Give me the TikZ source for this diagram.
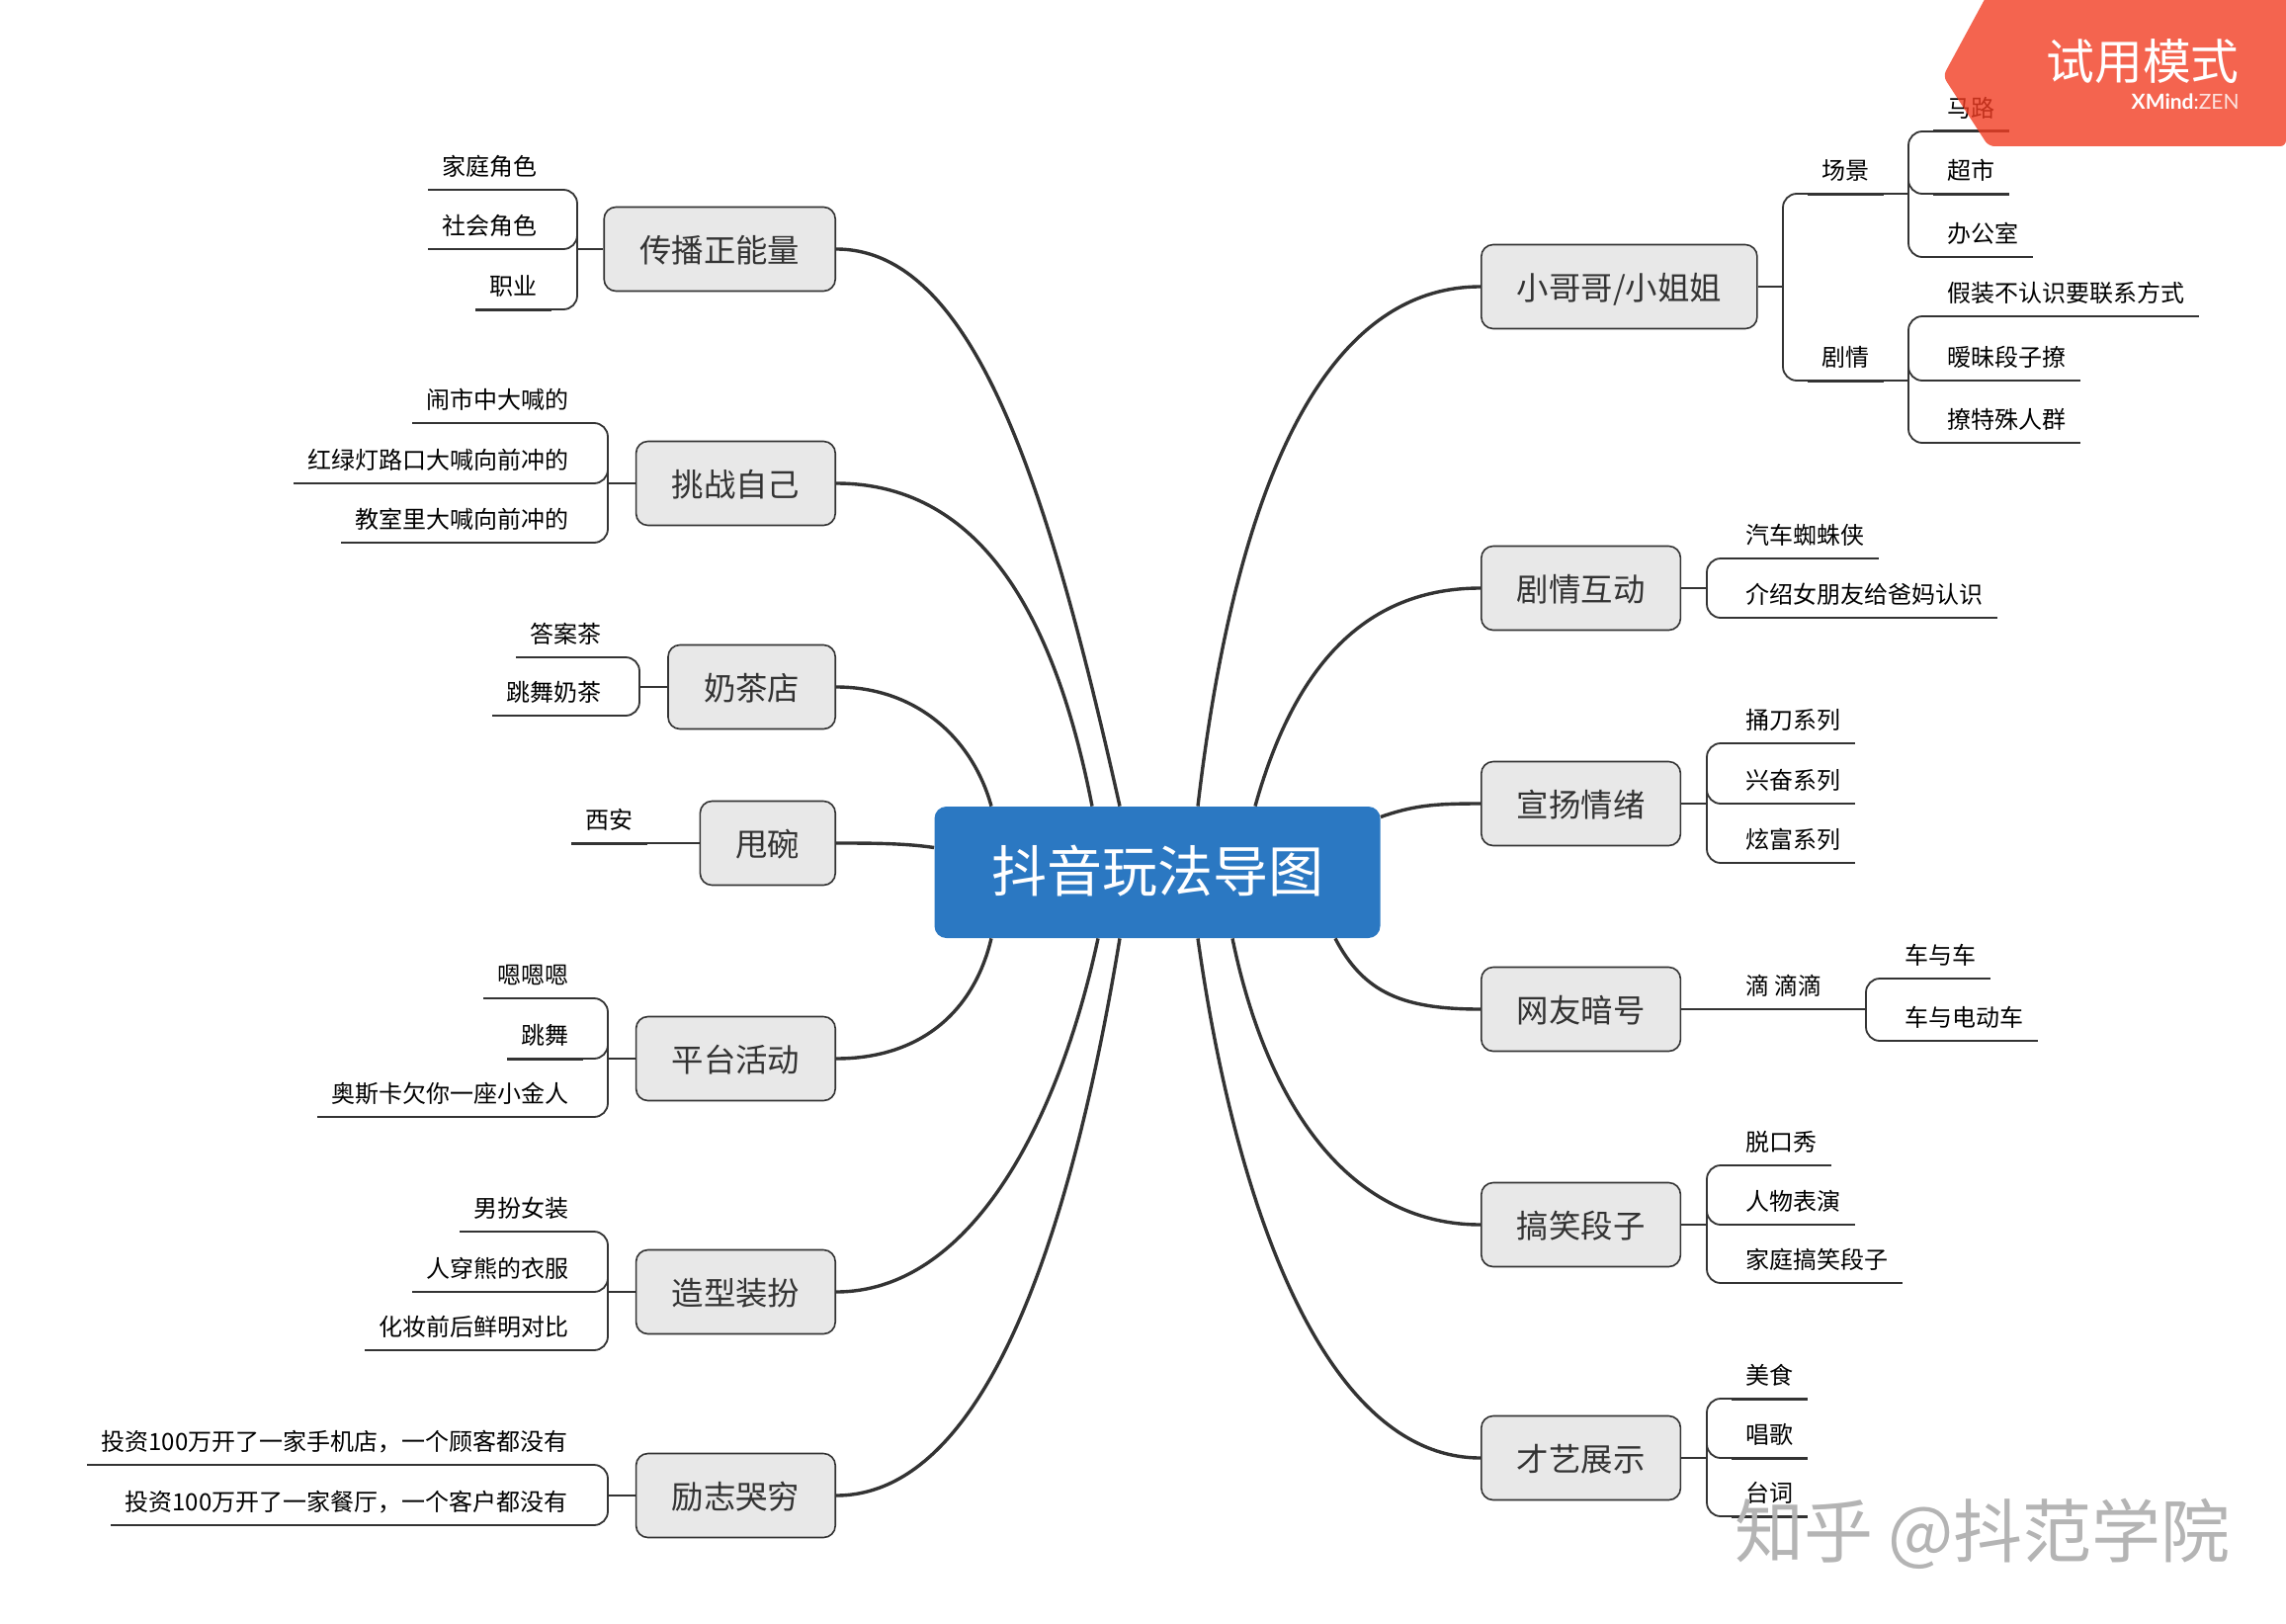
\documentclass[tikz,border=0pt]{standalone}
\usepackage{fontspec}
\usepackage{tikz}
\setmainfont{Noto Sans CJK SC}
\newfontfamily\xmindfont{Lato}
\definecolor{rootBlue}{HTML}{2B78C2}
\definecolor{topicGrey}{HTML}{E8E8E8}
\definecolor{lineDark}{HTML}{333333}
\definecolor{bannerRed}{HTML}{F13D23}
\definecolor{markGrey}{HTML}{B4B4B4}
\tikzstyle{mindmap}=[x=0.5pt, y=-0.5pt, draw=lineDark, text=black]
\tikzstyle{root}=[rectangle, rounded corners=6pt, fill=rootBlue, text=white, minimum width=225.5pt, minimum height=66.5pt, text height=24pt, text depth=4pt, inner sep=0pt, font=\fontsize{28}{32}\selectfont]
\tikzstyle{topic}=[rectangle, rounded corners=6pt, draw=lineDark, line width=0.8pt, fill=topicGrey, text=black!80, minimum height=42.5pt, inner xsep=18pt, inner ysep=0pt, text height=15.5pt, text depth=2.5pt, font=\fontsize{16.2}{20}\selectfont]
\tikzstyle{topicL}=[topic, anchor=east]
\tikzstyle{topicR}=[topic, anchor=west]
\tikzstyle{leaf}=[inner xsep=7pt, inner ysep=5pt, text height=10pt, text depth=2pt, font=\fontsize{12}{14}\selectfont]
\tikzstyle{leafL}=[leaf, anchor=south east]
\tikzstyle{leafR}=[leaf, anchor=south west]
\tikzstyle{limb}=[line width=1.7pt, draw=lineDark]
\tikzstyle{twig}=[line width=0.9pt, draw=lineDark, rounded corners=7pt]
\tikzstyle{heavy}=[line width=1.5pt, draw=lineDark]

\begin{document}
\begin{tikzpicture}[mindmap]
	\useasboundingbox (0,0) rectangle (2313,1643);

	\draw (1171,882.5) node[root] (root) {抖音玩法导图};

	%The topics on the left
	\draw (846,252) node[topicL] (energy) {传播正能量};
	\draw (846,489) node[topicL] (dare) {挑战自己};
	\draw (846,695) node[topicL] (tea) {奶茶店};
	\draw (846,853) node[topicL] (bowl) {甩碗};
	\draw (846,1071) node[topicL] (event) {平台活动};
	\draw (846,1307) node[topicL] (dress) {造型装扮};
	\draw (846,1513) node[topicL] (poor) {励志哭穷};

	%The topics on the right
	\draw (1498,290) node[topicR] (boy) {小哥哥/小姐姐};
	\draw (1498,595) node[topicR] (plot) {剧情互动};
	\draw (1498,813) node[topicR] (mood) {宣扬情绪};
	\draw (1498,1021) node[topicR] (code) {网友暗号};
	\draw (1498,1239) node[topicR] (fun) {搞笑段子};
	\draw (1498,1475) node[topicR] (art) {才艺展示};

	%Curves from the root
	\draw[limb] (energy.east) .. controls (985,252) and (1060,490) .. ([xshift=-19pt]root.north);
	\draw[limb] (dare.east) .. controls (985,489) and (1065,610) .. ([xshift=-33pt]root.north);
	\draw[limb] (tea.east) .. controls (930,695) and (985,750) .. ([xshift=-84pt]root.north);
	\draw[limb] (bowl.east) .. controls (880,853) and (915,853) .. ([yshift=12.5pt]root.west);
	\draw[limb] (event.east) .. controls (930,1071) and (985,1025) .. ([xshift=-84pt]root.south);
	\draw[limb] (dress.east) .. controls (980,1307) and (1070,1140) .. ([xshift=-30pt]root.south);
	\draw[limb] (poor.east) .. controls (1000,1513) and (1085,1240) .. ([xshift=-19pt]root.south);
	\draw[limb] (boy.west) .. controls (1340,290) and (1250,490) .. ([xshift=20.5pt]root.north);
	\draw[limb] (plot.west) .. controls (1370,595) and (1305,690) .. ([xshift=49.5pt]root.north);
	\draw[limb] (mood.west) .. controls (1450,813) and (1430,815) .. ([yshift=28pt]root.east);
	\draw[limb] (code.west) .. controls (1420,1021) and (1380,1005) .. ([xshift=90pt]root.south);
	\draw[limb] (fun.west) .. controls (1360,1239) and (1280,1110) .. ([xshift=38pt]root.south);
	\draw[limb] (art.west) .. controls (1340,1475) and (1250,1220) .. ([xshift=20.5pt]root.south);

	%Left leaves
	\coordinate (hubEnergy) at (584,252);
	\draw (558,192) node[leafL] (family) {家庭角色};
	\draw (558,252) node[leafL] (social) {社会角色};
	\draw (558,313) node[leafL] (job) {职业};
	\draw[twig] (energy.west) -- (hubEnergy);
	\draw[twig] (hubEnergy) |- (family.south west);
	\draw[twig] (hubEnergy) |- (social.south west);
	\draw[twig] (hubEnergy) |- (job.south west);
	\draw[heavy] (job.south west) -- (job.south east);

	\coordinate (hubDare) at (615,489);
	\draw (590,428) node[leafL] (street) {闹市中大喊的};
	\draw (590,489) node[leafL] (light) {红绿灯路口大喊向前冲的};
	\draw (590,549) node[leafL] (classroom) {教室里大喊向前冲的};
	\draw[twig] (dare.west) -- (hubDare);
	\draw[twig] (hubDare) |- (street.south west);
	\draw[twig] (hubDare) |- (light.south west);
	\draw[twig] (hubDare) |- (classroom.south west);

	\coordinate (hubTea) at (647,695);
	\draw (623,665) node[leafL] (answer) {答案茶};
	\draw (623,724) node[leafL] (dance) {跳舞奶茶};
	\draw[twig] (tea.west) -- (hubTea);
	\draw[twig] (hubTea) |- (answer.south west);
	\draw[twig] (hubTea) |- (dance.south west);

	\draw (655,853) node[leafL] (xian) {西安};
	\draw[twig] (bowl.west) -- (xian.south west);
	\draw[heavy] (xian.south west) -- (xian.south east);

	\coordinate (hubEvent) at (615,1071);
	\draw (590,1010) node[leafL] (hum) {嗯嗯嗯};
	\draw (590,1071) node[leafL] (step) {跳舞};
	\draw (590,1130) node[leafL] (oscar) {奥斯卡欠你一座小金人};
	\draw[twig] (event.west) -- (hubEvent);
	\draw[twig] (hubEvent) |- (hum.south west);
	\draw[twig] (hubEvent) |- (step.south west);
	\draw[twig] (hubEvent) |- (oscar.south west);
	\draw[heavy] (step.south west) -- (step.south east);

	\coordinate (hubDress) at (615,1307);
	\draw (590,1246) node[leafL] (drag) {男扮女装};
	\draw (590,1307) node[leafL] (bear) {人穿熊的衣服};
	\draw (590,1366) node[leafL] (makeup) {化妆前后鲜明对比};
	\draw[twig] (dress.west) -- (hubDress);
	\draw[twig] (hubDress) |- (drag.south west);
	\draw[twig] (hubDress) |- (bear.south west);
	\draw[twig] (hubDress) |- (makeup.south west);

	\coordinate (hubPoor) at (615,1513);
	\draw (589,1482) node[leafL] (phone) {投资100万开了一家手机店，一个顾客都没有};
	\draw (589,1543) node[leafL] (diner) {投资100万开了一家餐厅，一个客户都没有};
	\draw[twig] (poor.west) -- (hubPoor);
	\draw[twig] (hubPoor) |- (phone.south west);
	\draw[twig] (hubPoor) |- (diner.south west);

	%Right leaves
	\coordinate (hubBoy) at (1804,290);
	\coordinate (hubScene) at (1931,196);
	\coordinate (hubStory) at (1931,385);
	\draw (1829,196) node[leafR] (scene) {场景};
	\draw (1829,385) node[leafR] (story) {剧情};
	\draw[twig] (boy.east) -- (hubBoy);
	\draw[twig] (hubBoy) |- (scene.south east) -- (hubScene);
	\draw[twig] (hubBoy) |- (story.south east) -- (hubStory);
	\draw[heavy] (scene.south west) -- (scene.south east);
	\draw[heavy] (story.south west) -- (story.south east);

	\draw (1956,133) node[leafR] (road) {马路};
	\draw (1956,196) node[leafR] (market) {超市};
	\draw (1956,260) node[leafR] (office) {办公室};
	\draw[twig] (hubScene) |- (road.south east);
	\draw[twig] (hubScene) |- (market.south east);
	\draw[twig] (hubScene) |- (office.south east);
	\draw[heavy] (road.south west) -- (road.south east);
	\draw[heavy] (market.south west) -- (market.south east);

	\draw (1956,320) node[leafR] (stranger) {假装不认识要联系方式};
	\draw (1956,385) node[leafR] (flirt) {暧昧段子撩};
	\draw (1956,448) node[leafR] (crowd) {撩特殊人群};
	\draw[twig] (hubStory) |- (stranger.south east);
	\draw[twig] (hubStory) |- (flirt.south east);
	\draw[twig] (hubStory) |- (crowd.south east);

	\coordinate (hubPlot) at (1727,595);
	\draw (1752,565) node[leafR] (spider) {汽车蜘蛛侠};
	\draw (1752,625) node[leafR] (parents) {介绍女朋友给爸妈认识};
	\draw[twig] (plot.east) -- (hubPlot);
	\draw[twig] (hubPlot) |- (spider.south east);
	\draw[twig] (hubPlot) |- (parents.south east);

	\coordinate (hubMood) at (1727,813);
	\draw (1752,752) node[leafR] (stab) {捅刀系列};
	\draw (1752,813) node[leafR] (thrill) {兴奋系列};
	\draw (1752,873) node[leafR] (rich) {炫富系列};
	\draw[twig] (mood.east) -- (hubMood);
	\draw[twig] (hubMood) |- (stab.south east);
	\draw[twig] (hubMood) |- (thrill.south east);
	\draw[twig] (hubMood) |- (rich.south east);

	\coordinate (hubDrip) at (1888,1021);
	\draw (1752,1021) node[leafR] (drip) {滴 滴滴};
	\draw (1913,990) node[leafR] (cars) {车与车};
	\draw (1913,1053) node[leafR] (scooter) {车与电动车};
	\draw[twig] (code.east) -- (drip.south east) -- (hubDrip);
	\draw[twig] (hubDrip) |- (cars.south east);
	\draw[twig] (hubDrip) |- (scooter.south east);

	\coordinate (hubFun) at (1727,1239);
	\draw (1752,1179) node[leafR] (talk) {脱口秀};
	\draw (1752,1239) node[leafR] (role) {人物表演};
	\draw (1752,1298) node[leafR] (joke) {家庭搞笑段子};
	\draw[twig] (fun.east) -- (hubFun);
	\draw[twig] (hubFun) |- (talk.south east);
	\draw[twig] (hubFun) |- (role.south east);
	\draw[twig] (hubFun) |- (joke.south east);

	\coordinate (hubArt) at (1727,1475);
	\draw (1752,1415) node[leafR] (food) {美食};
	\draw (1752,1475) node[leafR] (song) {唱歌};
	\draw (1752,1534) node[leafR] (line) {台词};
	\draw[twig] (art.east) -- (hubArt);
	\draw[twig] (hubArt) |- (food.south east);
	\draw[twig] (hubArt) |- (song.south east);
	\draw[twig] (hubArt) |- (line.south east);
	\draw[heavy] (food.south west) -- (food.south east);
	\draw[heavy] (song.south west) -- (song.south east);
	\draw[heavy] (line.south west) -- (line.south east);

	%The trial banner and the watermark
	\fill[bannerRed, fill opacity=0.8, rounded corners=3pt] (2012,-8) -- (1966,77) -- (2012,148) -- (2313,148) -- (2313,-8) -- cycle;
	\draw (2266,62) node[anchor=east, text=white, inner sep=0pt, font=\fontsize{24.4}{28}\selectfont] (trial) {试用模式};
	\draw (2266,103) node[anchor=east, text=white, inner sep=0pt, font=\xmindfont\fontsize{10.5}{12}\selectfont] (brand) {\textbf{XMind}:{\color{white!85!bannerRed}ZEN}};
	\draw (2006,1552) node[text=markGrey, inner sep=0pt, font=\fontsize{35}{39}\selectfont] (mark) {知乎 @抖范学院};
\end{tikzpicture}
\end{document}
